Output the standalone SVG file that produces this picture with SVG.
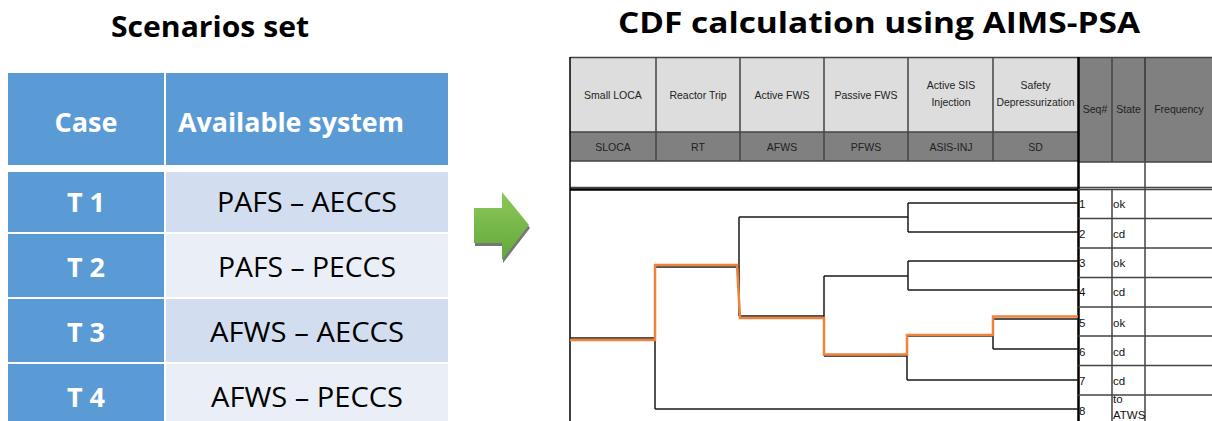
<svg xmlns="http://www.w3.org/2000/svg" width="1212" height="421" viewBox="0 0 1212 421">
<style>
.title{font-family:"Open Sans","Liberation Sans",sans-serif;font-weight:bold;font-size:28px;fill:#000}
.hd{fill:#5B9BD5}
.c1{fill:#D2DEEF}
.c2{fill:#EAEFF7}
.wt{font-family:"Open Sans","Liberation Sans",sans-serif;font-weight:bold;font-size:27px;fill:#fff}
.bt{font-family:"Open Sans","Liberation Sans",sans-serif;font-size:27px;fill:#000;text-anchor:middle}
.eh{font-family:"Liberation Sans","DejaVu Sans",sans-serif;font-size:10.5px;fill:#222;text-anchor:middle}
.st{font-family:"Liberation Sans","DejaVu Sans",sans-serif;font-size:11.5px;fill:#111}
.grid{stroke:#444;stroke-width:1.5;fill:none}
.tree{stroke:#1a1a1a;stroke-width:1.5;fill:none}
</style>
<defs>
<linearGradient id="ag" x1="0" y1="0" x2="0" y2="1">
<stop offset="0" stop-color="#8CC85A"/>
<stop offset="1" stop-color="#63A83A"/>
</linearGradient>
</defs>
<rect width="1212" height="421" fill="#fff"/>

<text class="title" x="210" y="37" text-anchor="middle" textLength="198" lengthAdjust="spacingAndGlyphs">Scenarios set</text>
<text class="title" x="879" y="33" text-anchor="middle" textLength="522" lengthAdjust="spacingAndGlyphs">CDF calculation using AIMS-PSA</text>

<!-- Left table -->
<g id="hdr-case"><rect class="hd" x="8" y="73" width="156" height="92"/><text class="wt" x="86" y="132" text-anchor="middle">Case</text></g>
<g id="hdr-avail"><rect class="hd" x="166" y="73" width="282" height="92"/><text class="wt" x="178" y="132" textLength="226" lengthAdjust="spacingAndGlyphs">Available system</text></g>
<g id="t1"><rect class="hd" x="8" y="172" width="156" height="60"/><text class="wt" x="86" y="212" text-anchor="middle">T 1</text></g>
<g id="t1-sys"><rect class="c1" x="166" y="172" width="282" height="60"/><text class="bt" x="307" y="212" textLength="180" lengthAdjust="spacingAndGlyphs">PAFS – AECCS</text></g>
<g id="t2"><rect class="hd" x="8" y="234" width="156" height="63"/><text class="wt" x="86" y="277" text-anchor="middle">T 2</text></g>
<g id="t2-sys"><rect class="c2" x="166" y="234" width="282" height="63"/><text class="bt" x="307" y="277" textLength="178" lengthAdjust="spacingAndGlyphs">PAFS – PECCS</text></g>
<g id="t3"><rect class="hd" x="8" y="299" width="156" height="63"/><text class="wt" x="86" y="342" text-anchor="middle">T 3</text></g>
<g id="t3-sys"><rect class="c1" x="166" y="299" width="282" height="63"/><text class="bt" x="307" y="342" textLength="194" lengthAdjust="spacingAndGlyphs">AFWS – AECCS</text></g>
<g id="t4"><rect class="hd" x="8" y="364" width="156" height="60"/><text class="wt" x="86" y="407" text-anchor="middle">T 4</text></g>
<g id="t4-sys"><rect class="c2" x="166" y="364" width="282" height="60"/><text class="bt" x="307" y="407" textLength="192" lengthAdjust="spacingAndGlyphs">AFWS – PECCS</text></g>

<!-- Arrow -->
<g id="arrow">
<polygon points="475,211 503,211 503,195 530,228 503,263 503,246 475,246" fill="#555" opacity="0.8"/>
<polygon points="474,208 502,208 502,192 529,225 502,260 502,243 474,243" fill="url(#ag)"/>
</g>

<!-- Event tree header -->
<g id="et-header">
<rect x="570" y="57" width="508" height="75" fill="#DDDDDD"/>
<rect x="570" y="132" width="508" height="29" fill="#808080"/>
<rect x="1078" y="57" width="134" height="105" fill="#808080"/>
<path class="grid" d="M570,57.5H1212 M570,132H1078 M570,161H1078 M1078,162H1212 M570,187.5H1212 M656,57V161 M740,57V161 M824,57V161 M908,57V161 M993,57V161 M1112,57V162 M1145,57V162"/>
<path d="M570,57V421" stroke="#000" stroke-width="1.5"/>
<path d="M1078.5,57V421" stroke="#000" stroke-width="2.5"/>
<path d="M570,189.5H1078" stroke="#000" stroke-width="2.5"/>
</g>
<g id="col-sloca"><text class="eh" x="613" y="99">Small LOCA</text><text class="eh" x="613" y="151">SLOCA</text></g>
<g id="col-rt"><text class="eh" x="698" y="99">Reactor Trip</text><text class="eh" x="698" y="151">RT</text></g>
<g id="col-afws"><text class="eh" x="782" y="99">Active FWS</text><text class="eh" x="782" y="151">AFWS</text></g>
<g id="col-pfws"><text class="eh" x="866" y="99">Passive FWS</text><text class="eh" x="866" y="151">PFWS</text></g>
<g id="col-asis"><text class="eh" x="951" y="89">Active SIS</text><text class="eh" x="951" y="106">Injection</text><text class="eh" x="951" y="151">ASIS-INJ</text></g>
<g id="col-sd"><text class="eh" x="1035.5" y="89">Safety</text><text class="eh" x="1035.5" y="106" textLength="78" lengthAdjust="spacingAndGlyphs">Depressurization</text><text class="eh" x="1035.5" y="151">SD</text></g>
<g id="col-seq"><text class="eh" x="1095" y="113">Seq#</text></g>
<g id="col-state"><text class="eh" x="1128.5" y="113">State</text></g>
<g id="col-freq"><text class="eh" x="1179" y="113">Frequency</text></g>

<!-- Sequence table rows -->
<g id="seq-table">
<path class="grid" d="M1078,189.5H1212 M1078,218.5H1212 M1078,248H1212 M1078,277.5H1212 M1078,307H1212 M1078,336H1212 M1078,365.5H1212 M1078,395H1212 M1112,189V421 M1145,57V421"/>
</g>
<g id="seq1"><text class="st" x="1079" y="208">1</text><text class="st" x="1113" y="208">ok</text></g>
<g id="seq2"><text class="st" x="1079" y="238">2</text><text class="st" x="1113" y="238">cd</text></g>
<g id="seq3"><text class="st" x="1079" y="267">3</text><text class="st" x="1113" y="267">ok</text></g>
<g id="seq4"><text class="st" x="1079" y="296">4</text><text class="st" x="1113" y="296">cd</text></g>
<g id="seq5"><text class="st" x="1079" y="327">5</text><text class="st" x="1113" y="327">ok</text></g>
<g id="seq6"><text class="st" x="1079" y="356">6</text><text class="st" x="1113" y="356">cd</text></g>
<g id="seq7"><text class="st" x="1079" y="385">7</text><text class="st" x="1113" y="385">cd</text></g>
<g id="seq8"><text class="st" x="1079" y="415">8</text><text class="st" x="1113" y="403">to</text><text class="st" x="1113" y="419">ATWS</text></g>

<!-- Tree connectors -->
<g id="connectors">
<path class="tree" d="M570,338H655 M655,267V409 M655,267H739 M655,409H1078 M739,217V316 M739,217H908 M908,203V232 M908,203H1078 M908,232H1078 M739,316H824 M824,276V356 M824,276H908 M908,261V290 M908,261H1078 M908,290H1078 M824,356H907 M907,336V380 M907,336H993 M993,319V349 M993,319H1078 M993,349H1078 M907,380H1078"/>
<polyline points="570,340 655,340 655,265 737,265 740,318 824,318 824,354.5 907,354.5 907,335 993,335 993,316.5 1078,316.5" fill="none" stroke="#F0823A" stroke-width="2.5" stroke-linejoin="miter"/>
</g>
</svg>
